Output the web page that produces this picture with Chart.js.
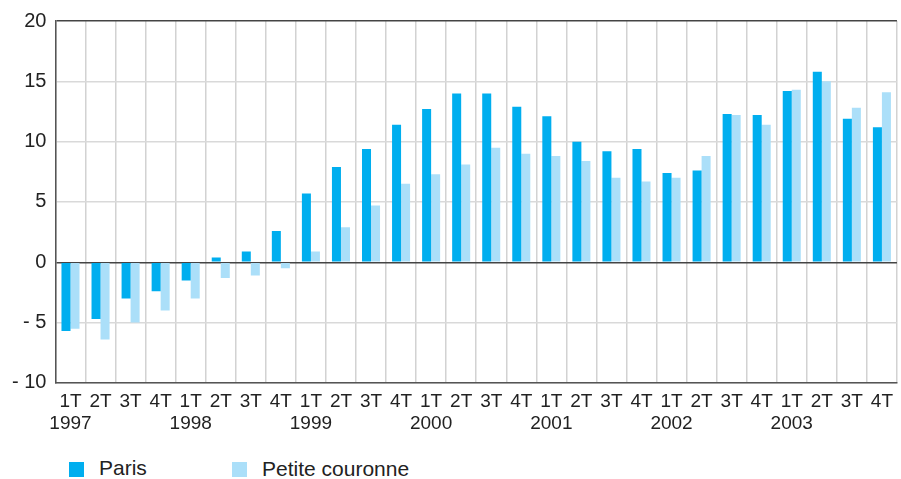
<!DOCTYPE html>
<html>
<head>
<meta charset="utf-8">
<script src="https://cdn.jsdelivr.net/npm/chart.js@4.4.0/dist/chart.umd.min.js"></script>
<style>
  body { margin: 0; background: #fff; font-family: "Liberation Sans", Arial, sans-serif; }
  #wrap { position: relative; width: 901px; height: 479px; }
  #chartCanvas { position: absolute; left: 0; top: 0; }
  .leg { position: absolute; font-size: 21px; color: #222; line-height: 21px; }
  .box { position: absolute; width: 15px; height: 15px; }
</style>
</head>
<body>
<div id="wrap">
  <canvas id="chartCanvas" width="901" height="443"></canvas>
  <div class="box" style="left:69px; top:462px; background:#00aeef;"></div>
  <div class="leg" style="left:99px; top:457px;">Paris</div>
  <div class="box" style="left:232px; top:462px; background:#abdff9;"></div>
  <div class="leg" style="left:262px; top:458px;">Petite couronne</div>
</div>
<script>
// quarters and years (x axis)
const quarters = ['1T', '2T', '3T', '4T'];
const years = ['1997', '1998', '1999', '2000', '2001', '2002', '2003'];

// values (%)
const paris = [-5.7, -4.7, -3.0, -2.4, -1.5, 0.4, 0.9, 2.6,
               5.7, 7.9, 9.4, 11.4, 12.7, 14.0, 14.0, 12.9,
               12.1, 10.0, 9.2, 9.4, 7.4, 7.6, 12.3, 12.2,
               14.2, 15.8, 11.9, 11.2];
const petite_couronne = [-5.5, -6.4, -5.0, -4.0, -3.0, -1.3, -1.1, -0.5,
                         0.9, 2.9, 4.7, 6.5, 7.3, 8.1, 9.5, 9.0,
                         8.8, 8.4, 7.0, 6.7, 7.0, 8.8, 12.2, 11.4,
                         14.3, 15.0, 12.8, 14.1];

const y_ticks = [-10, -5, 0, 5, 10, 15, 20];

// labels : quarter on first line, year under the first quarter
let labels = [];
years.forEach(year => {
    quarters.forEach((q, i) => {
        labels.push(i == 0 ? [q, year] : q);
    });
});

const FAMILY = '"Liberation Sans", Arial, sans-serif';

new Chart(document.getElementById('chartCanvas').getContext('2d'), {
    type: 'bar',
    data: {
        labels: labels,
        datasets: [
            {
                label: 'Paris',
                data: paris,
                backgroundColor: '#00aeef',
                categoryPercentage: 0.6,
                barPercentage: 1.0
            },
            {
                label: 'Petite couronne',
                data: petite_couronne,
                backgroundColor: '#abdff9',
                categoryPercentage: 0.6,
                barPercentage: 1.0
            }
        ]
    },
    options: {
        responsive: false,
        animation: false,
        layout: { padding: { left: 3, top: 8, right: 0, bottom: 0 } },
        plugins: {
            legend: { display: false },
            tooltip: { enabled: false }
        },
        scales: {
            x: {
                grid: {
                    offset: true,
                    drawTicks: false,
                    color: '#d2d2d2',
                    lineWidth: 1.5
                },
                border: { color: '#555', width: 1.5 },
                ticks: {
                    font: { family: FAMILY, size: 19, lineHeight: 1.16 },
                    color: '#222',
                    padding: 8,
                    maxRotation: 0,
                    autoSkip: false
                }
            },
            y: {
                min: -10,
                max: 20,
                afterBuildTicks: axis => {
                    axis.ticks = y_ticks.map(v => ({ value: v }));
                },
                grid: {
                    drawTicks: false,
                    color: ctx => (ctx.tick && (ctx.tick.value == 0 || ctx.tick.value == 20)) ? '#444' : '#d9d9d9',
                    lineWidth: 1.5
                },
                border: { color: '#555', width: 1.5 },
                ticks: {
                    font: { family: FAMILY, size: 20 },
                    color: '#222',
                    padding: 9,
                    callback: v => v < 0 ? '- ' + Math.abs(v) : '' + v
                }
            }
        }
    }
});
</script>
</body>
</html>
